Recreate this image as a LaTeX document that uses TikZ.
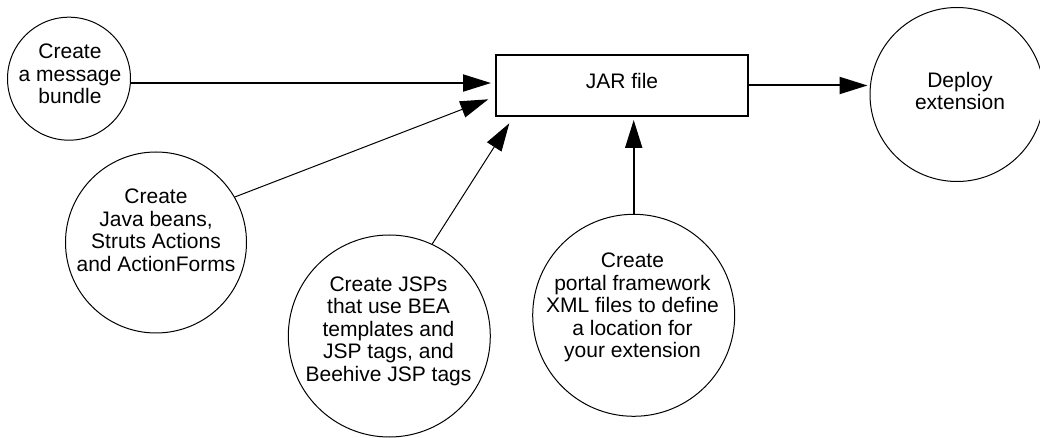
\documentclass[tikz,border=0pt]{standalone}
\usepackage{fontspec}
\setmainfont{Liberation Sans}
\usetikzlibrary{arrows.meta,calc}
\begin{document}
\begin{tikzpicture}[x=1bp,y=-1bp,
  bub/.style={circle,draw,line width=1bp,inner sep=0pt},
  lbl/.style={anchor=north,inner sep=0pt,align=center,font=\fontsize{21bp}{22.5bp}\selectfont},
  jarbox/.style={draw,line width=2bp,inner sep=0pt,minimum width=252bp,minimum height=61bp,font=\fontsize{21bp}{22.5bp}\selectfont,text depth=9.4bp},
  thickarrow/.style={line width=2bp,-{Triangle[length=28bp,width=17bp]}},
  thinarrow/.style={line width=1bp,-{Triangle[length=28bp,width=17bp]}},
]
\useasboundingbox (0,0) rectangle (1040,438);
% shapes
\node[bub,minimum size=123bp] (c1) at (69,78.7) {};
\node[bub,minimum size=181bp] (c2) at (156,242.5) {};
\node[bub,minimum size=202bp] (c3) at (389.3,336) {};
\node[bub,minimum size=202bp] (c4) at (633.7,315.3) {};
\node[bub,minimum size=174bp] (d) at (957,94.5) {};
\node[jarbox] (box) at (622,85.5) {JAR file};
% texts
\node[lbl] (t1) at (70,44) {Create\\a message\\bundle};
\node[lbl] (t2) at (156,189) {Create\\Java beans,\\Struts Actions\\and ActionForms};
\node[lbl] (t3) at (388.5,276.3) {Create JSPs\\that use BEA\\templates and\\JSP tags, and\\Beehive JSP tags};
\node[lbl] (t4) at (632.5,253) {Create\\portal framework\\XML files to define\\a location for\\your extension};
\node[lbl] (t5) at (960,72) {Deploy\\extension};
% connectors
\draw[thickarrow] (c1.-4.3) -- ($(c1.-4.3 -| box.west)+(-4,0)$);
\draw[thinarrow] (c2.30) -- ($(box.west)+(-6.7,13.8)$);
\draw[thinarrow] (c3.65.6) -- ($(box.south west)+(14.3,6.3)$);
\draw[thickarrow] (c4.north) -- ($(c4.north |- box.south)+(0,3)$);
\draw[thickarrow] (box.east) -- ($(box.east -| d.west)+(-2,0)$);
\end{tikzpicture}
\end{document}
